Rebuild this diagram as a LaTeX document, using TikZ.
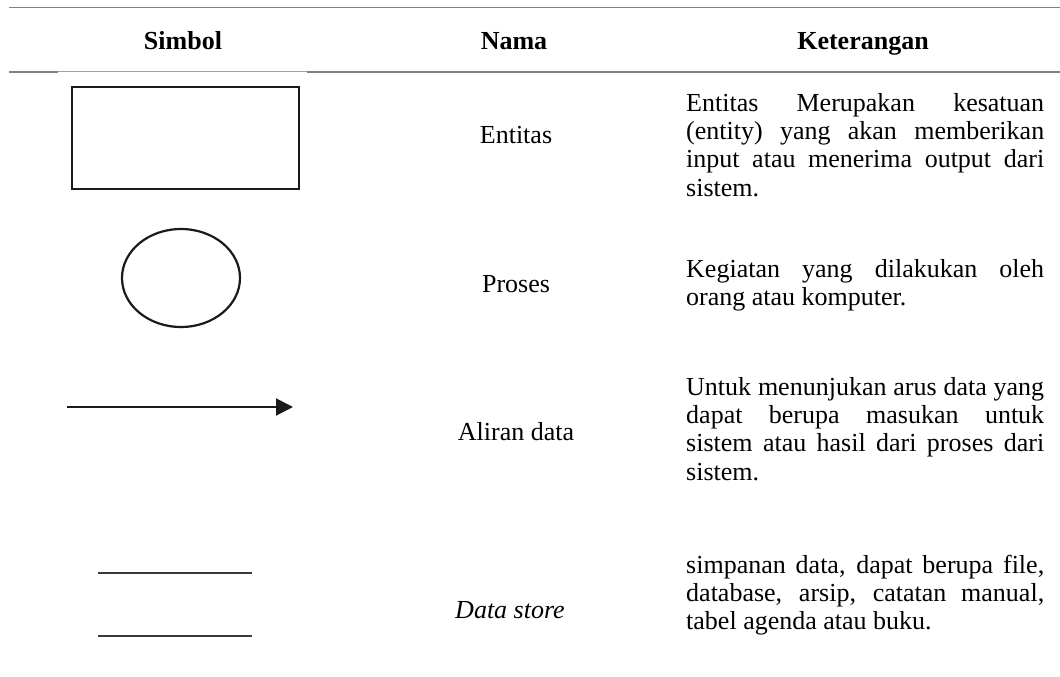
\documentclass[tikz,border=0pt]{standalone}
\usepackage{fontspec}
\setmainfont{Liberation Serif}
\usetikzlibrary{arrows.meta,shapes.geometric}
\hyphenpenalty=10000
\exhyphenpenalty=10000
\definecolor{rulegray}{HTML}{808080}
\definecolor{rulelight}{HTML}{A0A0A0}
\definecolor{ink}{HTML}{1A1A1A}
\definecolor{dsgray}{HTML}{3A3A3A}
\begin{document}
\begin{tikzpicture}[x=1pt,y=-1pt,
  txt/.style={font=\fontsize{26}{28.4}\selectfont, inner sep=0pt, text=black},
  hdr/.style={font=\fontsize{26}{28.4}\selectfont\bfseries, inner sep=0pt, anchor=base},
  nm/.style={txt, anchor=base},
  para/.style={txt, anchor=base west, text width=358pt, align=justify},
  rulestyle/.style={draw=rulegray, line width=1.6pt},
  shapeline/.style={draw=ink, line width=2.4pt},
  dsline/.style={draw=dsgray, line width=2.4pt}
]
\useasboundingbox (0,0) rectangle (1060,677);
\fill[white] (0,0) rectangle (1060,677);

% rules
\coordinate (t1) at (9,7.5);
\coordinate (t2) at (1060,7.5);
\draw[rulestyle] (t1) -- (t2);
\coordinate (h1) at (9,72);
\coordinate (h2) at (58,72);
\coordinate (h3) at (307,72);
\coordinate (h4) at (1060,72);
\draw[rulestyle] (h1) -- (h2);
\draw[draw=rulelight, line width=1pt] (h2) -- (h3);
\draw[rulestyle] (h3) -- (h4);

% headers
\node[hdr] (hsim) at (183,50) {Simbol};
\node[hdr] (hnam) at (514,50) {Nama};
\node[hdr] (hket) at (863,50) {Keterangan};

% row 1: entity
\node[shapeline, rectangle, minimum width=227pt, minimum height=102pt, inner sep=0pt] (ent) at (185.5,138) {};
\node[nm] (nent) at (516,143) {Entitas};
\node[para] (kent) at (686,111) {Entitas Merupakan kesatuan\linebreak (entity) yang akan memberikan\linebreak input atau menerima output dari\linebreak sistem.};

% row 2: process
\node[shapeline, ellipse, line width=2.2pt, minimum width=118pt, minimum height=98pt, inner sep=0pt] (proc) at (181,278) {};
\node[nm] (nproc) at (516,292) {Proses};
\node[para] (kproc) at (686,277) {Kegiatan yang dilakukan oleh\linebreak orang atau komputer.};

% row 3: data flow
\coordinate (af) at (67,407);
\coordinate (at) at (293,407);
\draw[draw=ink, line width=2pt, -{Triangle[length=17pt,width=17pt]}] (af) -- (at);
\node[nm] (nflow) at (516,440) {Aliran data};
\node[para] (kflow) at (686,395) {Untuk menunjukan arus data yang\linebreak dapat berupa masukan untuk\linebreak sistem atau hasil dari proses dari\linebreak sistem.};

% row 4: data store
\coordinate (d1a) at (98,573);
\coordinate (d1b) at (252,573);
\coordinate (d2a) at (98,636);
\coordinate (d2b) at (252,636);
\draw[dsline] (d1a) -- (d1b);
\draw[dsline] (d2a) -- (d2b);
\node[nm] (nstore) at (510,618) {\itshape Data store};
\node[para] (kstore) at (686,573) {simpanan data, dapat berupa file,\linebreak database, arsip, catatan manual,\linebreak tabel agenda atau buku.};
\end{tikzpicture}
\end{document}
